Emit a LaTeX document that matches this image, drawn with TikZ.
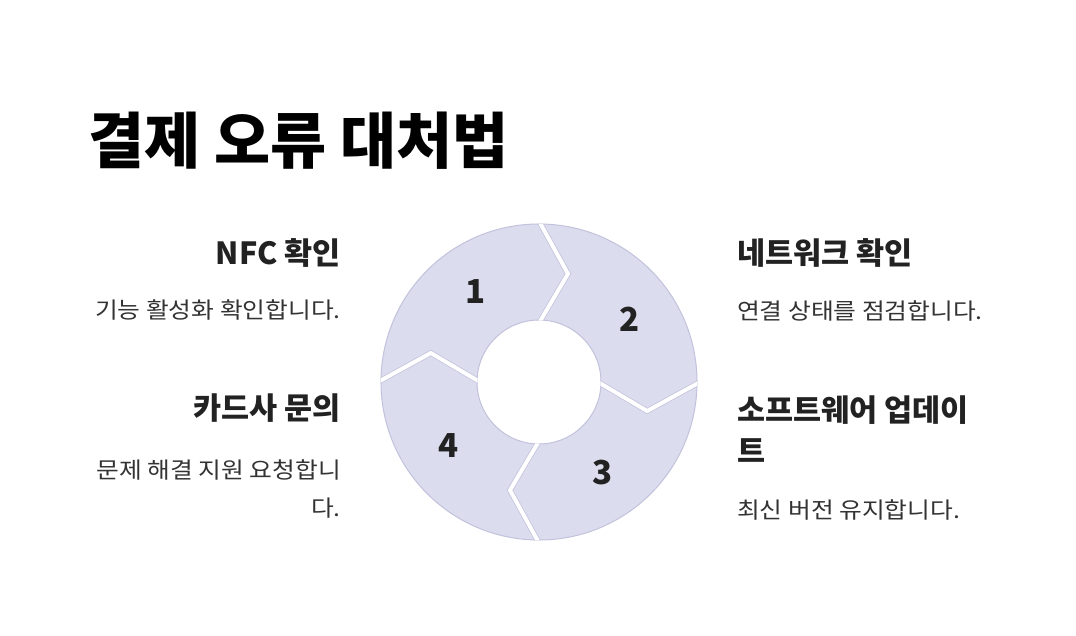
\documentclass[tikz,border=0pt]{standalone}
\usepackage{fontspec}
\setmainfont{Noto Sans CJK KR}
\newfontfamily\bodyfont{Noto Sans CJK KR}[FakeStretch=1.1]
\definecolor{seg}{HTML}{DCDCEF}
\definecolor{segl}{HTML}{C2C2DC}
\definecolor{ink}{HTML}{222222}
\definecolor{txt}{HTML}{333333}
\tikzset{
  ttl/.style={anchor=west,inner sep=0pt,font=\fontsize{61}{70}\selectfont\bfseries,text=black},
  hd/.style={inner sep=0pt,font=\fontsize{30.5}{41}\selectfont\bfseries,text=ink},
  ds/.style={inner sep=0pt,font=\bodyfont\fontsize{22.5}{38}\selectfont,text=txt},
  lt/.style={anchor=east,align=right},
  rt/.style={anchor=west,align=left},
  num/.style={inner sep=0pt,font=\fontsize{33}{40}\selectfont\bfseries,text=ink},
  cut/.style={draw=white,line width=4pt,line join=miter},
}
\begin{document}
\begin{tikzpicture}[x=1pt,y=-1pt]
\fill[white] (0,0) rectangle (1076,636);
\useasboundingbox (0,0) rectangle (1076,636);

\node[ttl] (title) at (88,141) {결제 오류 대처법};

\begin{scope}[shift={(539,382)}]
\fill[seg,even odd rule] (0,0) circle (158) (0,0) circle (62);
\draw[segl,line width=1pt] (0,0) circle (158) (0,0) circle (62);
\begin{scope}[even odd rule]
\clip (0,0) circle (158.5) (0,0) circle (61.5);
\foreach \a in {0,90,180,270}{
  \draw[segl,line width=5.5pt,line join=miter] (\a:161) -- (\a+15:112) -- (\a:59);
  \draw[cut] (\a:161) -- (\a+15:112) -- (\a:59);
}
\end{scope}
\foreach \n/\a in {1/235,2/325,3/55,4/145}
  \node[num] (n\n) at (\a:110) {\n};
\end{scope}

\node[hd,lt] (h1) at (341,253) {NFC 확인};
\node[ds,lt] (d1) at (341,310) {기능 활성화 확인합니다.};
\node[hd,lt] (h2) at (341,408) {카드사 문의};
\node[ds,lt] (d2) at (341,489) {문제 해결 지원 요청합니\\다.};

\node[hd,rt] (h3) at (737,253) {네트워크 확인};
\node[ds,rt] (d3) at (737,311) {연결 상태를 점검합니다.};
\node[hd,rt] (h4) at (737,429) {소프트웨어 업데이\\트};
\node[ds,rt] (d4) at (737,510) {최신 버전 유지합니다.};
\end{tikzpicture}
\end{document}
